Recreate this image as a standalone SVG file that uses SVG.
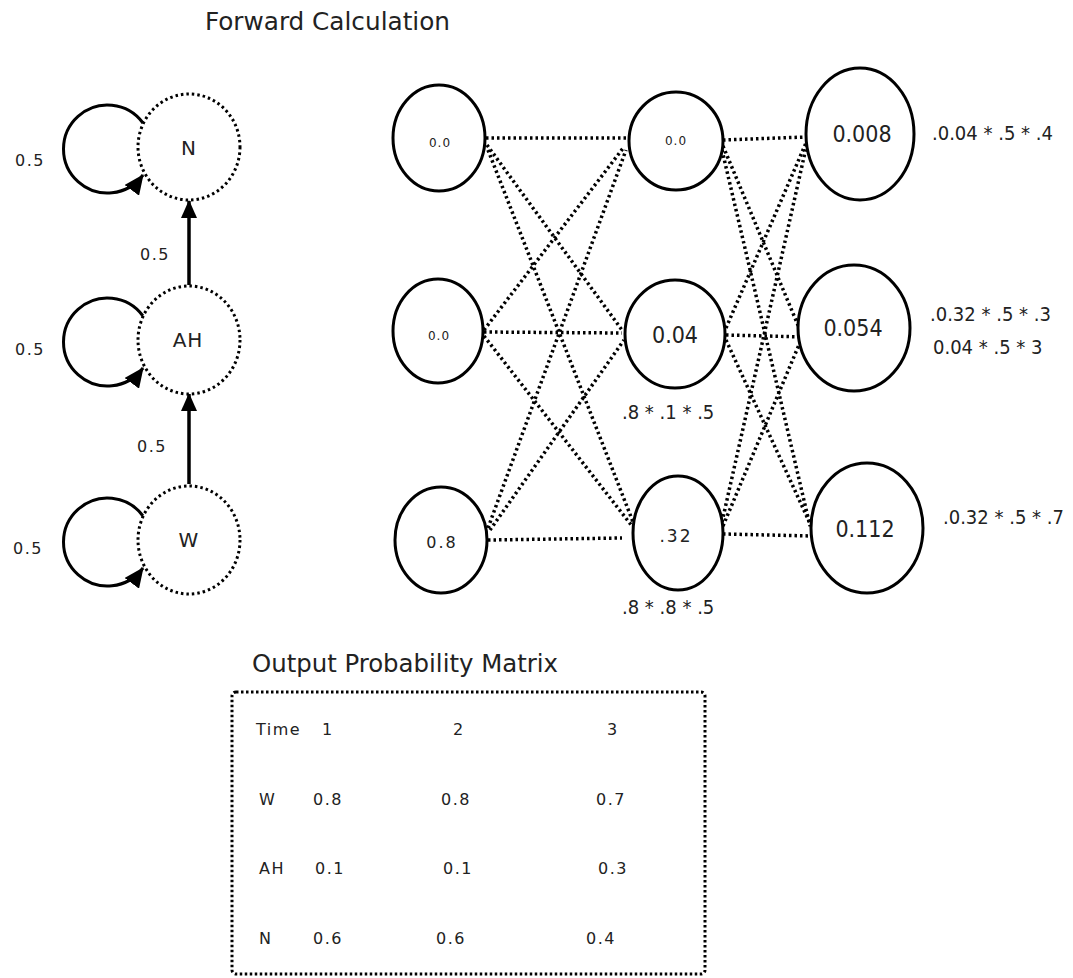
<svg xmlns="http://www.w3.org/2000/svg" width="1073" height="978" viewBox="0 0 1073 978">
  <defs>
    <marker id="arrow" markerUnits="userSpaceOnUse" viewBox="0 0 18 16" refX="17" refY="8" markerWidth="18" markerHeight="16" orient="auto">
      <path d="M0,0 L18,8 L0,16 z" fill="#000"/>
    </marker>
    <marker id="loop-arrow" markerUnits="userSpaceOnUse" viewBox="0 0 20 18" refX="19" refY="9" markerWidth="20" markerHeight="18" orient="auto">
      <path d="M0,0 L20,9 L0,18 z" fill="#000"/>
    </marker>
  </defs>
  <style>
    .state { fill: #fff; stroke: #000; stroke-width: 3; stroke-dasharray: 2.5 3; }
    .cell { fill: #fff; stroke: #000; stroke-width: 3; }
    .loop { fill: none; stroke: #000; stroke-width: 3; marker-end: url(#loop-arrow); }
    .trans { fill: none; stroke: #000; stroke-width: 3.5; marker-end: url(#arrow); }
    .dots { fill: none; stroke: #000; stroke-width: 3.5; stroke-dasharray: 2.5 3; }
    .box { fill: none; stroke: #000; stroke-width: 3; stroke-dasharray: 2.5 2.5; }
    text { font-family: "DejaVu Sans", "Liberation Sans", sans-serif; fill: #222; }
    .title { font-family: "DejaVu Sans Condensed", "Liberation Sans", sans-serif; font-size: 25px; }
    .lbl { font-size: 16px; letter-spacing: 1.5px; }
    .node { font-size: 20px; text-anchor: middle; letter-spacing: 1px; }
    .big { font-family: "DejaVu Sans Condensed", "Liberation Sans", sans-serif; font-size: 23px; text-anchor: middle; }
    .calc { font-family: "DejaVu Sans Condensed", "Liberation Sans", sans-serif; font-size: 20px; }
    .mid { text-anchor: middle; }
  </style>

  <!-- headings -->
  <text class="title" x="205" y="30" textLength="245" lengthAdjust="spacingAndGlyphs">Forward Calculation</text>
  <text class="title" x="252" y="672" textLength="306" lengthAdjust="spacingAndGlyphs">Output Probability Matrix</text>

  <!-- state model: transitions -->
  <g id="transitions">
    <path class="loop" d="M143,123 A44,44 0 1 0 143,175"/>
    <path class="loop" d="M143,316 A44,44 0 1 0 143,368"/>
    <path class="loop" d="M143,516 A44,44 0 1 0 143,568"/>
    <line class="trans" x1="189" y1="285" x2="189" y2="201"/>
    <line class="trans" x1="189" y1="484" x2="189" y2="394"/>
    <text class="lbl" x="15" y="166">0.5</text>
    <text class="lbl" x="15" y="355">0.5</text>
    <text class="lbl" x="13" y="554">0.5</text>
    <text class="lbl" x="140" y="260">0.5</text>
    <text class="lbl" x="137" y="452">0.5</text>
  </g>

  <g id="state-N">
    <ellipse class="state" cx="189" cy="147" rx="51" ry="53"/>
    <text class="node" x="189" y="155">N</text>
  </g>
  <g id="state-AH">
    <ellipse class="state" cx="189" cy="340" rx="51" ry="54"/>
    <text class="node" x="188" y="347">AH</text>
  </g>
  <g id="state-W">
    <ellipse class="state" cx="189" cy="540" rx="51" ry="54"/>
    <text class="node" x="189" y="547">W</text>
  </g>

  <!-- trellis connectors -->
  <g id="connectors">
    <!-- time 1 to time 2 -->
    <line class="dots" x1="486" y1="138" x2="628" y2="138"/>
    <line class="dots" x1="487" y1="145" x2="622" y2="330"/>
    <line class="dots" x1="488" y1="150" x2="633" y2="522"/>
    <line class="dots" x1="484" y1="330" x2="624" y2="147"/>
    <line class="dots" x1="484" y1="332" x2="622" y2="333"/>
    <line class="dots" x1="484" y1="336" x2="632" y2="526"/>
    <line class="dots" x1="488" y1="528" x2="626" y2="150"/>
    <line class="dots" x1="490" y1="530" x2="624" y2="340"/>
    <line class="dots" x1="488" y1="540" x2="622" y2="538"/>
    <!-- time 2 to time 3 -->
    <line class="dots" x1="723" y1="140" x2="806" y2="137"/>
    <line class="dots" x1="723" y1="146" x2="800" y2="330"/>
    <line class="dots" x1="722" y1="150" x2="810" y2="526"/>
    <line class="dots" x1="726" y1="328" x2="806" y2="143"/>
    <line class="dots" x1="726" y1="335" x2="806" y2="337"/>
    <line class="dots" x1="726" y1="340" x2="813" y2="530"/>
    <line class="dots" x1="722" y1="522" x2="806" y2="148"/>
    <line class="dots" x1="723" y1="526" x2="801" y2="340"/>
    <line class="dots" x1="723" y1="534" x2="812" y2="536"/>
  </g>

  <!-- time 1 -->
  <g id="t1-N">
    <ellipse class="cell" cx="439" cy="138" rx="46" ry="53"/>
    <text class="mid" x="440" y="147" style="font-size:12px;letter-spacing:1px">0.0</text>
  </g>
  <g id="t1-AH">
    <ellipse class="cell" cx="438" cy="331" rx="45" ry="52"/>
    <text class="mid" x="439" y="340" style="font-size:12px;letter-spacing:1px">0.0</text>
  </g>
  <g id="t1-W">
    <ellipse class="cell" cx="441" cy="540" rx="46" ry="53"/>
    <text class="mid" x="442" y="548" style="font-size:16px;letter-spacing:2px">0.8</text>
  </g>

  <!-- time 2 -->
  <g id="t2-N">
    <ellipse class="cell" cx="676" cy="141" rx="47" ry="49"/>
    <text class="mid" x="676" y="145" style="font-size:12px;letter-spacing:1px">0.0</text>
  </g>
  <g id="t2-AH">
    <ellipse class="cell" cx="675" cy="334" rx="50" ry="54"/>
    <text class="big" x="675" y="343">0.04</text>
  </g>
  <g id="t2-W">
    <ellipse class="cell" cx="678" cy="533" rx="45" ry="57"/>
    <text class="mid" x="676" y="542" style="font-size:17px;letter-spacing:2px">.32</text>
  </g>
  <text class="calc" x="622" y="419">.8 * .1 * .5</text>
  <text class="calc" x="622" y="614">.8 * .8 * .5</text>

  <!-- time 3 -->
  <g id="t3-N">
    <ellipse class="cell" cx="860" cy="134" rx="54" ry="66"/>
    <text class="big" x="862" y="142">0.008</text>
  </g>
  <g id="t3-AH">
    <ellipse class="cell" cx="854" cy="328" rx="56" ry="63"/>
    <text class="big" x="853" y="336">0.054</text>
  </g>
  <g id="t3-W">
    <ellipse class="cell" cx="867" cy="528" rx="56" ry="65"/>
    <text class="big" x="865" y="537">0.112</text>
  </g>
  <text class="calc" x="932" y="140">.0.04 * .5 * .4</text>
  <text class="calc" x="930" y="321">.0.32 * .5 * .3</text>
  <text class="calc" x="933" y="354">0.04 * .5 * 3</text>
  <text class="calc" x="943" y="524">.0.32 * .5 * .7</text>

  <!-- output probability matrix -->
  <g id="matrix">
    <rect class="box" x="232" y="692" width="473" height="282" rx="4"/>
    <g class="lbl">
      <text x="256" y="735">Time</text>
      <text x="322" y="735">1</text>
      <text x="453" y="735">2</text>
      <text x="607" y="735">3</text>
      <text x="259" y="805">W</text>
      <text x="313" y="805">0.8</text>
      <text x="441" y="805">0.8</text>
      <text x="596" y="805">0.7</text>
      <text x="259" y="874">AH</text>
      <text x="315" y="874">0.1</text>
      <text x="443" y="874">0.1</text>
      <text x="598" y="874">0.3</text>
      <text x="259" y="944">N</text>
      <text x="313" y="944">0.6</text>
      <text x="436" y="944">0.6</text>
      <text x="586" y="944">0.4</text>
    </g>
  </g>
</svg>
